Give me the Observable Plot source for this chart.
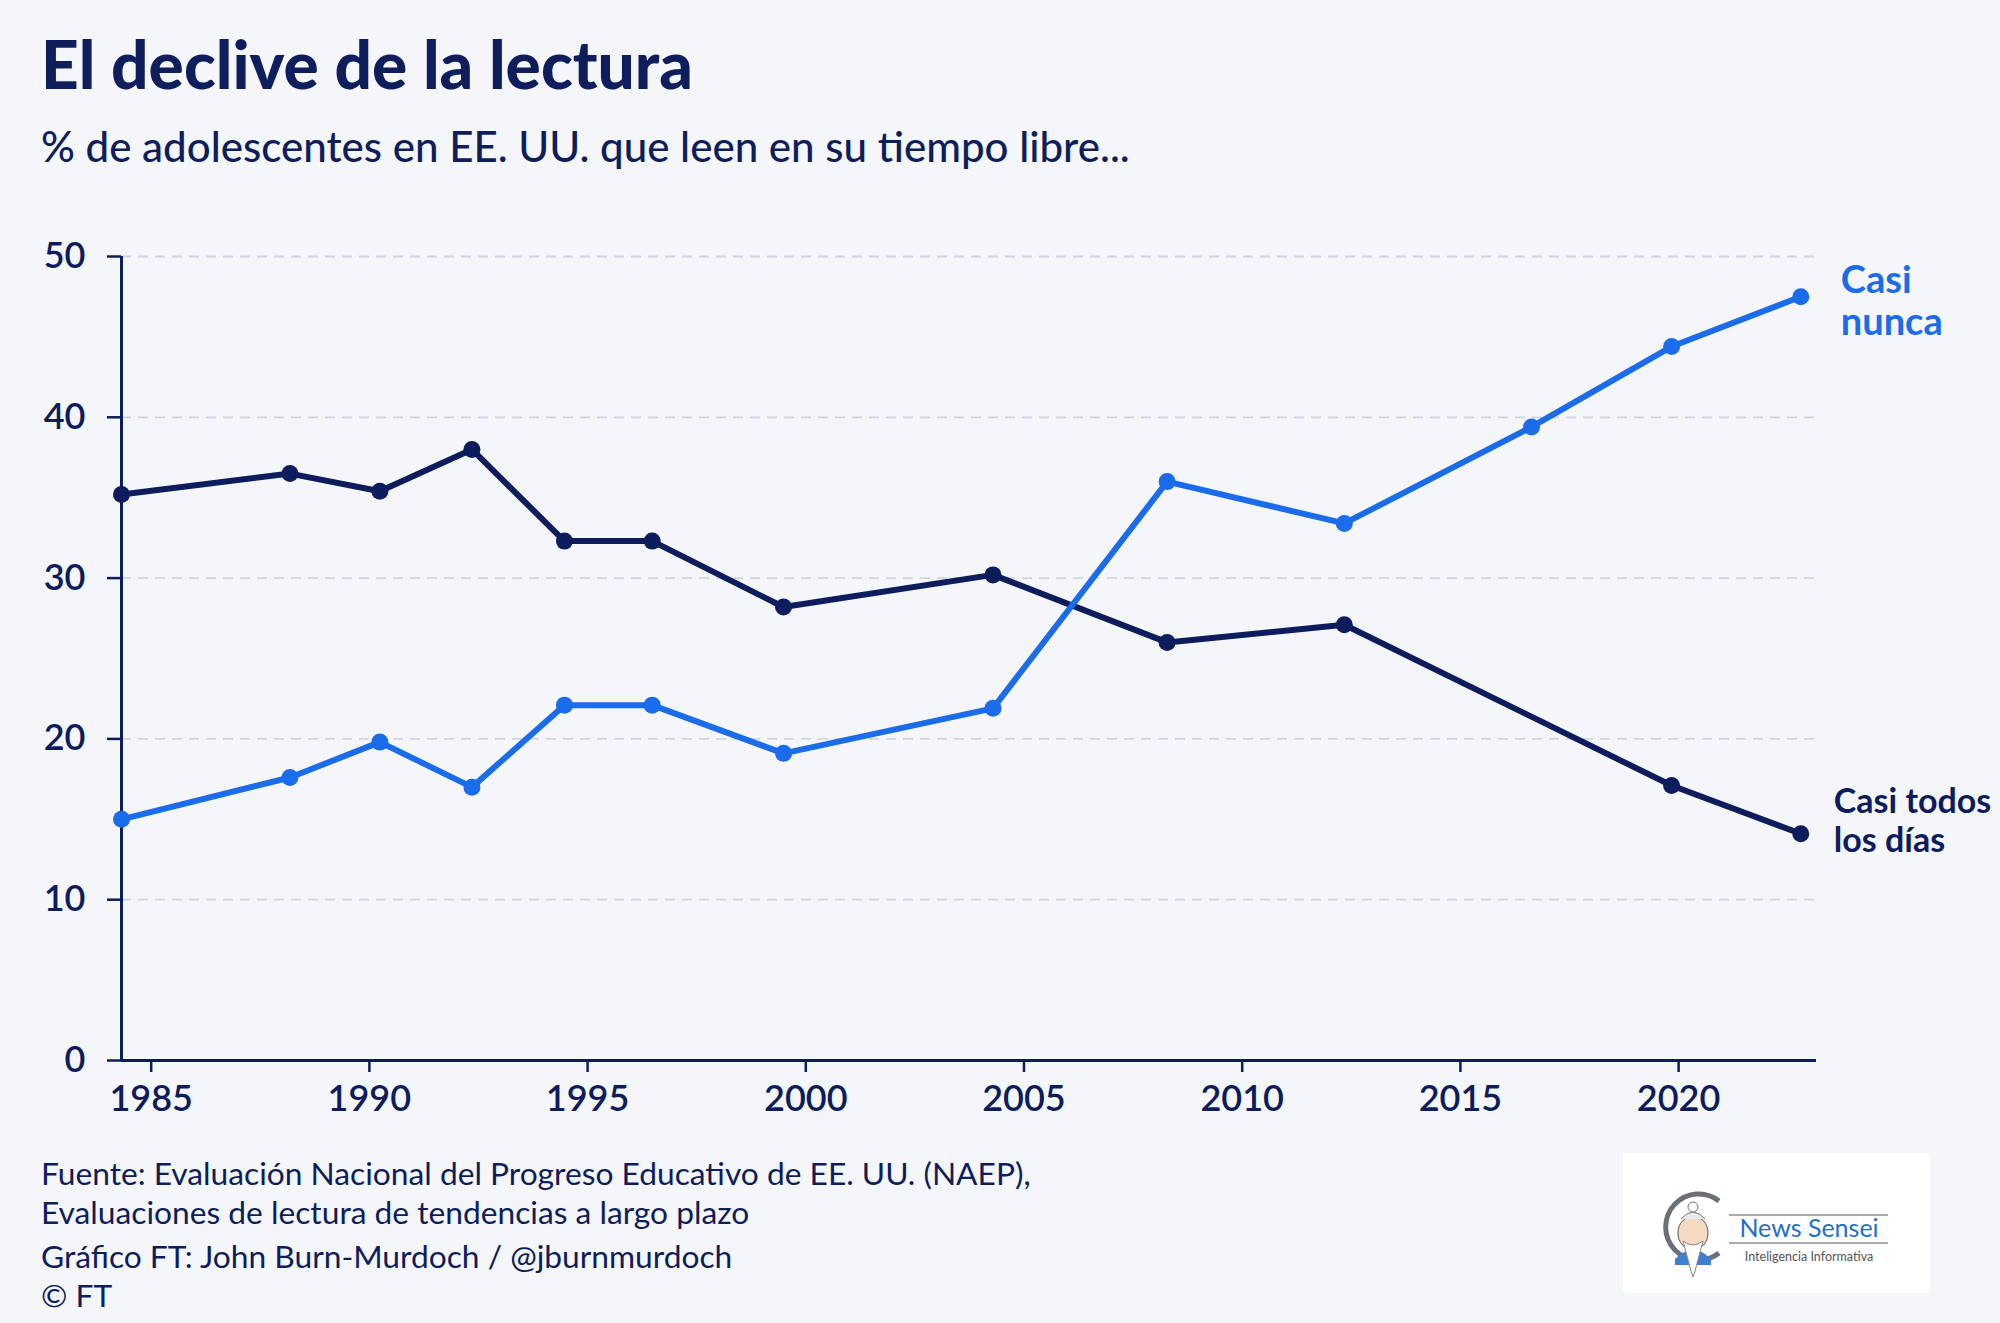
<!DOCTYPE html>
<html><head><meta charset="utf-8">
<script src="https://cdn.jsdelivr.net/npm/d3@7"></script>
<script src="https://cdn.jsdelivr.net/npm/@observablehq/plot@0.6"></script>
<style>
html,body{margin:0;padding:0;background:#f5f6fa;}
#root{position:relative;width:2000px;height:1323px;overflow:hidden;font-family:Lato,"Noto Sans",sans-serif;color:#0e1d5b;}
.t{position:absolute;white-space:nowrap;line-height:1;}
#plot{position:absolute;left:0;top:200px;}
#logo{position:absolute;left:1623px;top:1153px;}
</style></head><body><div id="root">
<div id="title" class="t" style="left:41px;top:31px;font-size:63px;font-weight:900;">El declive de la lectura</div>
<div id="subtitle" class="t" style="left:41px;top:125px;font-size:37px;font-weight:500;">% de adolescentes en EE. UU. que leen en su tiempo libre...</div>
<div id="plot"></div>
<div id="f1" class="t foot" style="left:41px;top:1158px;font-size:29px;">Fuente: Evaluación Nacional del Progreso Educativo de EE. UU. (NAEP),</div>
<div id="f2" class="t foot" style="left:41px;top:1197px;font-size:29px;">Evaluaciones de lectura de tendencias a largo plazo</div>
<div id="f3" class="t foot" style="left:41px;top:1241px;font-size:29px;">Gráfico FT: John Burn-Murdoch / @jburnmurdoch</div>
<div id="f4" class="t foot" style="left:41px;top:1280px;font-size:29px;">© FT</div>
<svg id="logo" width="307" height="140" viewBox="0 0 307 140">
  <rect x="0" y="0" width="307" height="140" fill="#ffffff"/>
  <path d="M 96 48 A 33 33 0 1 0 96 100" fill="none" stroke="#6b6f78" stroke-width="5"/>
  <path d="M 52 106 Q 70 88 88 106 L 88 112 L 52 112 Z" fill="#3f7fd0"/>
  <ellipse cx="70" cy="80" rx="15" ry="17" fill="#f4d9c3" stroke="#555" stroke-width="1"/>
  <path d="M 58 66 Q 70 52 82 66" fill="#e9e9ee" stroke="#777" stroke-width="1"/>
  <circle cx="70" cy="54" r="5" fill="#ffffff" stroke="#777" stroke-width="1"/>
  <path d="M 60 88 Q 70 96 80 88 L 72 118 L 70 124 L 68 118 Z" fill="#ffffff" stroke="#888" stroke-width="1"/>
  <line x1="106" y1="62" x2="265" y2="62" stroke="#8a8d93" stroke-width="1.5"/>
  <line x1="106" y1="90" x2="265" y2="90" stroke="#8a8d93" stroke-width="1.5"/>
  <text x="186" y="84" text-anchor="middle" font-family="Lato, sans-serif" font-size="25" fill="#1f6fc4">News Sensei</text>
  <text x="186" y="108" text-anchor="middle" font-family="Lato, sans-serif" font-size="12.5" fill="#555">Inteligencia Informativa</text>
</svg>
</div>
<script>
// ---- data ----
const yearsNunca = [1984.32, 1988.18, 1990.24, 1992.35, 1994.47, 1996.48, 1999.49, 2004.29, 2008.28, 2012.34, 2016.63, 2019.84, 2022.80];
const casiNunca  = [15.0, 17.6, 19.8, 17.0, 22.1, 22.1, 19.1, 21.9, 36.0, 33.4, 39.4, 44.4, 47.5];
const yearsTodos = [1984.32, 1988.18, 1990.24, 1992.35, 1994.47, 1996.48, 1999.49, 2004.29, 2008.28, 2012.34, 2019.84, 2022.80];
const casiTodos  = [35.2, 36.5, 35.4, 38.0, 32.3, 32.3, 28.2, 30.2, 26.0, 27.1, 17.1, 14.1];
const xTicks = [1985, 1990, 1995, 2000, 2005, 2010, 2015, 2020];
const yTicks = [0, 10, 20, 30, 40, 50];
const seriesNames = ["Casi\nnunca", "Casi todos\nlos días"];
const xDomain = [1984.32, 2023.16];

const navy = "#0d1c5c";
const blue = "#1b6cea";
const grid = "#cfd3e6";

const nunca = yearsNunca.map((y, i) => ({year: y, value: casiNunca[i]}));
const todos = yearsTodos.map((y, i) => ({year: y, value: casiTodos[i]}));

const chart = Plot.plot({
  width: 2000, height: 950,
  marginTop: 56, marginBottom: 90, marginLeft: 121, marginRight: 184,
  style: {background: "transparent", fontFamily: "Lato, 'Noto Sans', sans-serif", fontSize: "36px", color: navy, overflow: "visible"},
  x: {domain: xDomain, label: null},
  y: {domain: [0, 50], label: null},
  marks: [
    Plot.ruleY(yTicks.filter(d => d > 0), {stroke: grid, strokeWidth: 1.8, strokeDasharray: "10,7"}),
    Plot.axisX({ticks: xTicks, tickFormat: d => String(d), tickSize: 12, tickPadding: 13, fontWeight: 600, color: navy, strokeWidth: 2.5, label: null}),
    Plot.axisY({ticks: yTicks, tickSize: 14, tickPadding: 22, fontWeight: 600, color: navy, strokeWidth: 2.5, label: null}),
    Plot.ruleY([0], {stroke: navy, strokeWidth: 3}),
    Plot.ruleX([xDomain[0]], {stroke: navy, strokeWidth: 3}),
    Plot.line(todos, {x: "year", y: "value", stroke: navy, strokeWidth: 6, strokeLinejoin: "round"}),
    Plot.line(nunca, {x: "year", y: "value", stroke: blue, strokeWidth: 6, strokeLinejoin: "round"}),
    Plot.dot(todos, {x: "year", y: "value", r: 8.5, fill: navy, stroke: null}),
    Plot.dot(nunca, {x: "year", y: "value", r: 8.5, fill: blue, stroke: null}),
    Plot.text([nunca[nunca.length - 1]], {x: "year", y: "value", text: () => seriesNames[0], textAnchor: "start", lineAnchor: "top", dx: 40, dy: -34, fontSize: 38, fontWeight: 700, fill: blue, lineHeight: 1.12}),
    Plot.text([todos[todos.length - 1]], {x: "year", y: "value", text: () => seriesNames[1], textAnchor: "start", lineAnchor: "top", dx: 33, dy: -48, fontSize: 34, fontWeight: 700, fill: navy, lineHeight: 1.14})
  ]
});
document.getElementById("plot").appendChild(chart);

function fit(id, target) {
  const el = document.getElementById(id);
  const w = el.getBoundingClientRect().width;
  const fs = parseFloat(el.style.fontSize);
  el.style.fontSize = (fs * target / w) + "px";
  return fs * target / w;
}
fit("title", 652);
fit("subtitle", 1089);
const fs = fit("f1", 990);
["f2","f3","f4"].forEach(id => document.getElementById(id).style.fontSize = fs + "px");
</script>
</body></html>
